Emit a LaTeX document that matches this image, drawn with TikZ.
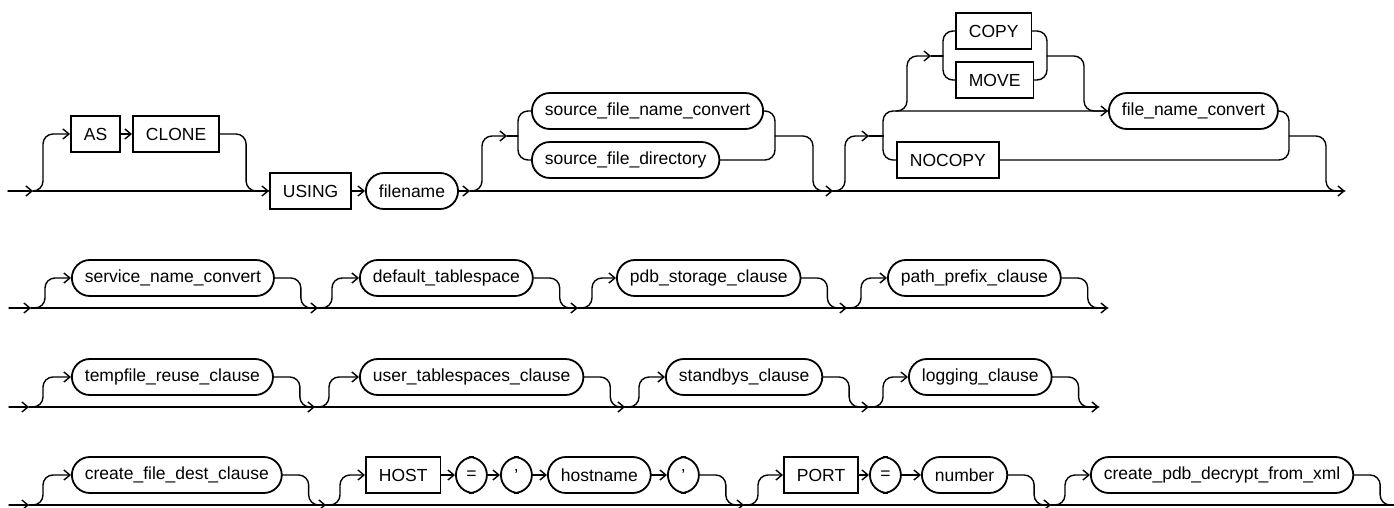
\documentclass[tikz,border=0pt]{standalone}
\usepackage{fontspec}
\setmainfont{Liberation Sans}
\usepackage{tikz}
\usetikzlibrary{arrows.meta}

\begin{document}
\begin{tikzpicture}[x=1pt,y=-1pt,>={Straight Barb[length=6pt,width=10pt]},line width=1.4pt,line cap=round,
  font=\fontsize{17.5}{21}\selectfont,
  kw/.style={draw,line width=1.8pt,minimum height=36pt,inner xsep=13pt,inner ysep=0pt,anchor=west},
  ref/.style={draw,line width=1.8pt,rounded corners=18pt,minimum height=36pt,inner xsep=13pt,inner ysep=0pt,anchor=west},
  sym/.style={ref,inner xsep=0pt,minimum width=31pt},
  turn/.style={rounded corners=10pt}]
\useasboundingbox (0,0) rectangle (1394,508);
\coordinate (r1s) at (8,191);
\coordinate (r1a) at (33,191);
\coordinate (r1b) at (470,191);
\coordinate (r1c) at (833,191);
\coordinate (r1e) at (1345,191);
\coordinate (sin) at (507,136);
\coordinate (sbl) at (518,136);
\coordinate (sbr) at (775,136);
\coordinate (cin) at (869,136);
\coordinate (cbl) at (883,136);
\coordinate (cbr) at (1289,136);
\coordinate (cmj) at (896,111);
\coordinate (min) at (931,56);
\coordinate (mbl) at (943,56);
\coordinate (mbr) at (1047,56);
\node[kw] (as) at (70,134) {AS};
\node[kw] (clone) at (132,134) {CLONE};
\node[kw] (using) at (269,191) {USING};
\node[ref] (fname) at (365,191) {filename};
\node[ref] (sfnc) at (531,111) {source\_file\_name\_convert};
\node[ref] (sfd) at (531,160) {source\_file\_directory};
\node[kw] (copy) at (955,31) {COPY};
\node[kw] (move) at (955,80) {MOVE};
\node[kw] (nocopy) at (896,160) {NOCOPY};
\node[ref] (fnc) at (1108,111) {file\_name\_convert};
\draw[->] (r1s) -- (r1a);
\draw[->] (r1a) -- (using.west);
\draw[->,turn] (r1a) -- ++(10,0) |- (as.west);
\draw[->] (as) -- (clone);
\draw[turn] (clone.east) -- ++(26,0) |- (using.west);
\draw[->] (using) -- (fname);
\draw[->] (fname) -- (r1b);
\draw[->] (r1b) -- (r1c);
\draw[->,turn] (r1b) -- ++(12,0) |- (sin);
\draw (sin) -- (sbl);
\draw[turn] (sfnc.west) -| (sbl) |- (sfd.west);
\draw[turn] (sfnc.east) -| (sbr) |- (sfd.east);
\draw[turn] (sbr) -- ++(38,0) |- (r1c);
\draw[->] (r1c) -- (r1e);
\draw[->,turn] (r1c) -- ++(12,0) |- (cin);
\draw (cin) -- (cbl);
\draw[->,turn] (cbl) |- (fnc.west);
\draw[turn] (cbl) |- (nocopy.west);
\draw[->,turn] (cmj) -- ++(11,0) |- (min);
\draw (min) -- (mbl);
\draw[turn] (copy.west) -| (mbl) |- (move.west);
\draw[turn] (copy.east) -| (mbr) |- (move.east);
\draw[turn] (mbr) -- ++(37,0) |- (fnc.west);
\draw[turn] (fnc.east) -| (cbr) |- (nocopy.east);
\draw[turn] (cbr) -- ++(37,0) |- (r1e);
\coordinate (r2s) at (9,308);
\coordinate (r2a) at (31,308);
\coordinate (r2b) at (318,308);
\coordinate (r2c) at (578,308);
\coordinate (r2d) at (847,308);
\coordinate (r2e) at (1108,308);
\node[ref] (svc) at (71,278) {service\_name\_convert};
\node[ref] (dts) at (359,278) {default\_tablespace};
\node[ref] (pdbs) at (616,278) {pdb\_storage\_clause};
\node[ref] (ppc) at (887,278) {path\_prefix\_clause};
\draw[->] (r2s) -- (r2a);
\draw[->] (r2a) -- (r2b);
\draw[->] (r2b) -- (r2c);
\draw[->] (r2c) -- (r2d);
\draw[->] (r2d) -- (r2e);
\draw[->,turn] (r2a) -- ++(14,0) |- (svc.west);
\draw[turn] (svc.east) -- ++(26,0) |- (r2b);
\draw[->,turn] (r2b) -- ++(14,0) |- (dts.west);
\draw[turn] (dts.east) -- ++(26,0) |- (r2c);
\draw[->,turn] (r2c) -- ++(14,0) |- (pdbs.west);
\draw[turn] (pdbs.east) -- ++(26,0) |- (r2d);
\draw[->,turn] (r2d) -- ++(14,0) |- (ppc.west);
\draw[turn] (ppc.east) -- ++(26,0) |- (r2e);
\coordinate (r3s) at (9,407);
\coordinate (r3a) at (29,407);
\coordinate (r3b) at (315,407);
\coordinate (r3c) at (625,407);
\coordinate (r3d) at (869,407);
\coordinate (r3e) at (1099,407);
\node[ref] (tfr) at (71,377) {tempfile\_reuse\_clause};
\node[ref] (uts) at (359,377) {user\_tablespaces\_clause};
\node[ref] (sbc) at (665,377) {standbys\_clause};
\node[ref] (lgc) at (908,377) {logging\_clause};
\draw[->] (r3s) -- (r3a);
\draw[->] (r3a) -- (r3b);
\draw[->] (r3b) -- (r3c);
\draw[->] (r3c) -- (r3d);
\draw[->] (r3d) -- (r3e);
\draw[->,turn] (r3a) -- ++(14,0) |- (tfr.west);
\draw[turn] (tfr.east) -- ++(26,0) |- (r3b);
\draw[->,turn] (r3b) -- ++(14,0) |- (uts.west);
\draw[turn] (uts.east) -- ++(26,0) |- (r3c);
\draw[->,turn] (r3c) -- ++(14,0) |- (sbc.west);
\draw[turn] (sbc.east) -- ++(26,0) |- (r3d);
\draw[->,turn] (r3d) -- ++(14,0) |- (lgc.west);
\draw[turn] (lgc.east) -- ++(26,0) |- (r3e);
\coordinate (r4s) at (9,505);
\coordinate (r4a) at (29,505);
\coordinate (r4b) at (326,505);
\coordinate (r4c) at (744,505);
\coordinate (r4d) at (1051,505);
\coordinate (r4e) at (1394,505);
\node[ref] (cfd) at (71,475) {create\_file\_dest\_clause};
\node[kw] (host) at (365,475) {HOST};
\node[sym] (eqa) at (455,475) {=};
\node[sym] (qa) at (500,475) {'};
\node[ref] (hname) at (547,475) {hostname};
\node[sym] (qb) at (667,475) {'};
\node[kw] (port) at (783,475) {PORT};
\node[sym] (eqb) at (869,475) {=};
\node[ref] (num) at (921,475) {number};
\node[ref] (cpdx) at (1090,475) {create\_pdb\_decrypt\_from\_xml};
\draw[->] (r4s) -- (r4a);
\draw[->] (r4a) -- (r4b);
\draw[->] (r4b) -- (r4c);
\draw[->] (r4c) -- (r4d);
\draw (r4d) -- (r4e);
\draw[->,turn] (r4a) -- ++(14,0) |- (cfd.west);
\draw[turn] (cfd.east) -- ++(26,0) |- (r4b);
\draw[->,turn] (r4b) -- ++(14,0) |- (host.west);
\draw[->] (host) -- (eqa);
\draw[->] (eqa) -- (qa);
\draw[->] (qa) -- (hname);
\draw[->] (hname) -- (qb);
\draw[turn] (qb.east) -- ++(26,0) |- (r4c);
\draw[->,turn] (r4c) -- ++(14,0) |- (port.west);
\draw[->] (port) -- (eqb);
\draw[->] (eqb) -- (num);
\draw[turn] (num.east) -- ++(26,0) |- (r4d);
\draw[->,turn] (r4d) -- ++(14,0) |- (cpdx.west);
\draw[turn] (cpdx.east) -- ++(26,0) |- (r4e);
\end{tikzpicture}
\end{document}
